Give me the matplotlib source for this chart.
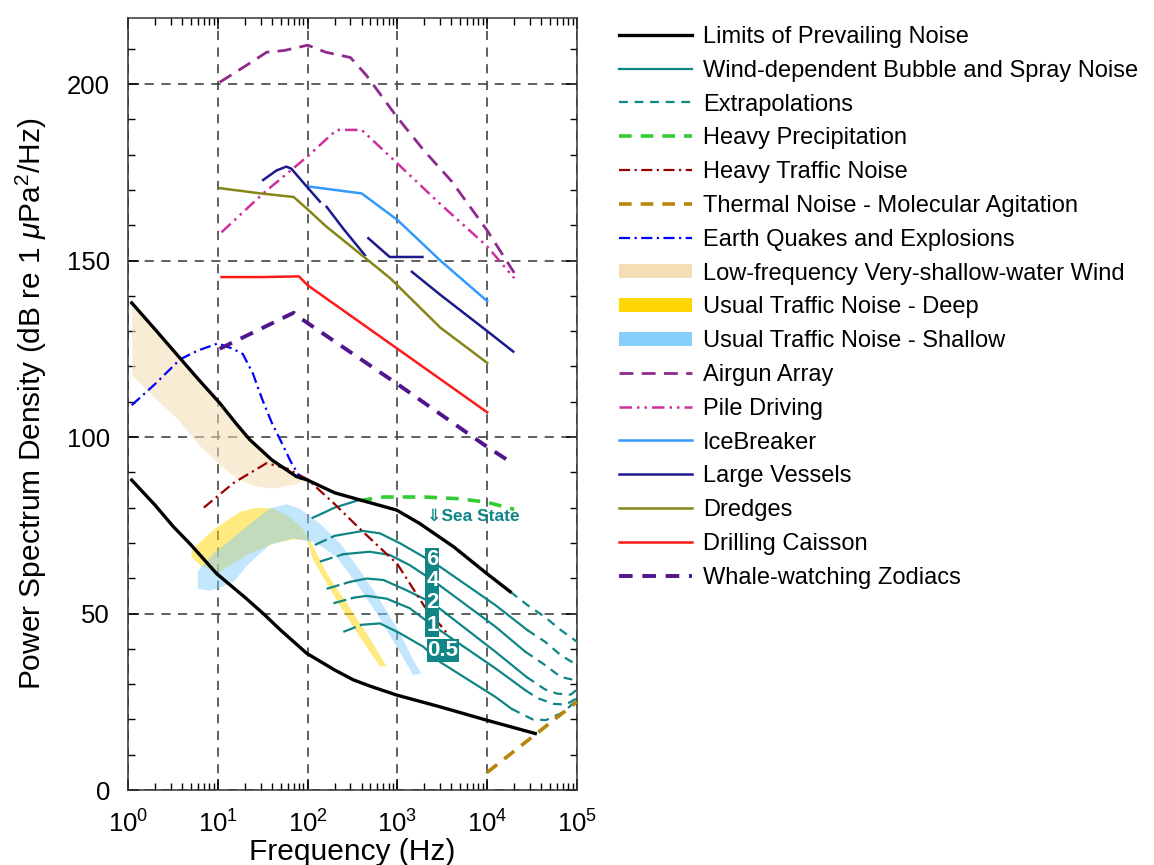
import numpy as np
import matplotlib
matplotlib.use("Agg")
import matplotlib.pyplot as plt
from matplotlib.lines import Line2D
from matplotlib.ticker import LogLocator, MultipleLocator, NullFormatter

plt.rcParams['font.family'] = ['Liberation Sans', 'DejaVu Sans']
plt.rcParams['mathtext.fontset'] = 'custom'
plt.rcParams['mathtext.rm'] = 'Liberation Sans'
plt.rcParams['mathtext.it'] = 'Liberation Sans:italic'
plt.rcParams['mathtext.bf'] = 'Liberation Sans:bold'

# ---------------- data ----------------
# Limits of prevailing noise
lim_hi_f = [1.1, 2, 3.6, 6, 10.6, 16, 22.8, 40, 75, 100, 200, 380, 980, 1770, 4230, 9800, 18000]
lim_hi_db = [138, 130.5, 123, 116.5, 109.5, 103.8, 99.2, 93.5, 88.8, 87.8, 84.2, 82.2, 79.3,
             75.5, 68.9, 61.4, 56.2]
lim_lo_f = [1.1, 2, 3.2, 5, 9.7, 20, 32, 50, 98, 200, 323, 500, 980, 2950, 9800, 34300]
lim_lo_db = [87.8, 80.7, 74.6, 69.5, 61.3, 54.6, 50, 45.3, 38.7, 34, 31.2, 29.4, 26.9,
             23.6, 19.8, 16]

# Wind-dependent bubble & spray noise (sea states), lead-in / solid / extrapolation
sea_lead_f = [[111, 150], [120, 200], [137, 250], [163, 300], [194, 330], [250, 400]]
sea_lead_db = [[77, 78.5], [69.4, 72], [64.7, 66.8], [57, 59], [52.9, 54.5], [44.8, 46.8]]
sea_f = [[150, 200, 380, 980, 1770, 4230, 9800, 18000],
         [200, 415, 640, 1070, 1940, 3000, 12300, 28000],
         [250, 490, 820, 1370, 2450, 12300, 26500],
         [300, 455, 700, 1260, 2450, 12300, 27500],
         [330, 455, 760, 1370, 2450, 12300, 26500],
         [400, 640, 1070, 1940, 2970, 12300, 18700]]
sea_db = [[78.5, 80, 82.2, 79.3, 75.5, 68.9, 61.4, 56.2],
          [72, 73.4, 72.7, 69.9, 66.1, 63.2, 52.4, 45.3],
          [66.8, 67.5, 66.6, 63.7, 59.5, 46.3, 39.2],
          [59, 59.9, 59.5, 56.6, 53, 39.2, 32],
          [54.5, 55, 54.2, 51.5, 46.7, 34.5, 28.3],
          [46.8, 47.2, 44.4, 40.6, 36.3, 26.4, 23]]
sea_ext_f = [[18000, 28000, 44000, 66000, 100000],
             [28000, 44000, 66000, 100000],
             [26500, 44000, 66000, 100000],
             [27500, 44000, 60000, 85000, 100000],
             [26500, 36500, 55000, 75000, 100000],
             [18700, 32000, 45000, 70000, 100000]]
sea_ext_db = [[56.2, 52.4, 49, 45.3, 42],
              [45.3, 42, 38.2, 35.4],
              [39.2, 35.4, 32, 31],
              [32, 28.5, 27.3, 27, 28.5],
              [28.3, 26, 24.4, 24.2, 26],
              [23, 20, 19.8, 22, 25.5]]
sea_labels = ["6", "4", "2", "1", "0.5"]

# Heavy precipitation
rain_f = [380, 700, 2000, 5000, 10000, 20000]
rain_db = [82, 83, 83, 82.5, 81.5, 79.5]

# Heavy traffic noise
htraffic_f = [7, 15, 35, 60, 100, 200, 400, 1000, 2000, 3700]
htraffic_db = [80, 87, 92.6, 91, 88, 81, 73.5, 64, 52, 44]

# Thermal noise
thermal_f = [10000, 100000]
thermal_db = [5, 25]

# Earthquakes and explosions
quake_f = [1.1, 2, 3.8, 6, 10, 14.7, 19, 24.6, 28, 32, 40, 50, 65, 85]
quake_db = [109, 115, 122, 124.5, 126.5, 125, 123.5, 118, 114, 110, 104, 99, 93, 88]

# Low-frequency very-shallow-water wind band
swwind_f = [1.1, 2, 3.6, 6, 10.6, 16, 22.8, 40, 75, 90]
swwind_hi = [137, 130.5, 123, 116.5, 109.5, 103.8, 99.2, 93.5, 88.8, 88.2]
swwind_lo = [117.6, 111, 105, 98, 92, 88.5, 86.5, 85.5, 86.8, 87.8]

# Usual traffic noise - deep (band edges)
deep_hi_f = [5.1, 8.9, 17.7, 27, 41.5, 63, 90, 116, 163, 273, 455, 760]
deep_hi_db = [68, 73.7, 78.8, 80, 79.7, 77.4, 73.7, 68.9, 61.4, 52.9, 44.4, 35]
deep_lo_f = [5.1, 6.5, 10.6, 21, 41.5, 69, 98, 116, 210, 380, 640]
deep_lo_db = [66, 63.5, 61.8, 66.6, 69.8, 71, 70.8, 65, 53.8, 43.4, 35]

# Usual traffic noise - shallow (band edges)
shal_hi_f = [6, 9, 21, 38, 58, 82, 137, 230, 380, 640, 1070, 1500, 1850]
shal_hi_db = [62, 67, 74.6, 79.7, 81, 79.7, 75.5, 69.9, 62.3, 53.8, 44.4, 36.8, 33]
shal_lo_f = [6, 8, 10, 15, 22, 38, 70, 125, 210, 350, 590, 980, 1500, 1850]
shal_lo_db = [57, 56.5, 57, 59, 64, 69.5, 71.3, 70, 66, 58.5, 50, 40.6, 32.6, 33]

# Anthropogenic sources
airgun_f = [10.5, 20, 35, 55, 100, 160, 300, 450, 1000, 2000, 4000, 10000, 20000]
airgun_db = [200.5, 205, 209, 209.5, 211, 209, 207.5, 202.5, 190.5, 181, 172.5, 158.5, 146.5]
pile_f = [11, 32, 100, 210, 400, 1000, 3000, 10000, 20000]
pile_db = [158, 169, 179.5, 187, 187, 177.5, 166, 154, 145]
ice_f = [100, 400, 1000, 3000, 10000]
ice_db = [171, 169, 161.5, 150, 138.5]
vessel_f = [32, 45, 58, 66, 90, 137, np.nan, 163, 250, 435, np.nan, 475, 820, 1900,
            np.nan, 1450, 3000, 10000, 19500]
vessel_db = [172.8, 175.5, 176.6, 176, 172, 166.7, np.nan, 165.2, 159, 151.5, np.nan,
             156.3, 151, 151, np.nan, 146.8, 140.3, 130, 124.2]
dredge_f = [10.5, 30, 70, 100, 160, 380, 830, 3000, 10000]
dredge_db = [170.5, 169, 168, 164.5, 159.7, 152, 145, 131, 121]
drill_f = [11, 30, 80, 100, 1000, 10000]
drill_db = [145.3, 145.3, 145.5, 143, 125, 107]
zodiac_f = [10.5, 70, 85, 1000, 10000, 18000]
zodiac_db = [125, 135.2, 133.5, 115, 97.2, 93]

# ---------------- figure ----------------
fig = plt.figure(figsize=(11.54, 8.65), dpi=100)
ax = fig.add_axes([128 / 1154, 1 - 790 / 865, (577 - 128) / 1154, (790 - 18) / 865])
ax.set_xscale('log')
ax.set_xlim(1, 1e5)
ax.set_ylim(0, 218.7)

TEAL = '#0f8585'

# bands
ax.fill_between(swwind_f, swwind_lo, swwind_hi, color='wheat', alpha=0.55, lw=0, zorder=1)
ax.fill(deep_hi_f + deep_lo_f[::-1], deep_hi_db + deep_lo_db[::-1],
        color='gold', alpha=0.5, lw=0, zorder=1)
ax.fill(shal_hi_f + shal_lo_f[::-1], shal_hi_db + shal_lo_db[::-1],
        color='lightskyblue', alpha=0.5, lw=0, zorder=1)

# sea state curves
for i in range(len(sea_f)):
    ax.plot(sea_lead_f[i], sea_lead_db[i], color=TEAL, lw=1.6, ls=(0, (6, 2)), zorder=3)
    ax.plot(sea_f[i], sea_db[i], color=TEAL, lw=1.6, zorder=3)
    ax.plot(sea_ext_f[i], sea_ext_db[i], color=TEAL, lw=1.6, ls=(0, (4, 3)), zorder=3)

ax.plot(lim_hi_f, lim_hi_db, color='black', lw=2.4, zorder=4)
ax.plot(lim_lo_f, lim_lo_db, color='black', lw=2.4, zorder=4)
ax.plot(rain_f, rain_db, color='#33cc33', lw=2.6, ls=(0, (3.5, 2.5)), zorder=3)
ax.plot(htraffic_f, htraffic_db, color='#990000', lw=1.6, ls=(0, (5, 2, 1, 2)), zorder=3)
ax.plot(thermal_f, thermal_db, color='#b8860b', lw=2.6, ls=(0, (3.5, 2.5)), zorder=3)
ax.plot(quake_f, quake_db, color='#0000ff', lw=1.6, ls=(0, (5, 2, 1, 2)), zorder=3)

ax.plot(airgun_f, airgun_db, color='#8e2a8e', lw=2.0, ls=(0, (5, 3)), zorder=3)
ax.plot(pile_f, pile_db, color='#d02f9e', lw=1.8, ls=(0, (5, 2, 1, 2, 1, 2)), zorder=3)
ax.plot(ice_f, ice_db, color='#3399ff', lw=1.8, zorder=3)
ax.plot(vessel_f, vessel_db, color='#1a1a8c', lw=1.8, zorder=3)
ax.plot(dredge_f, dredge_db, color='#85851a', lw=1.8, zorder=3)
ax.plot(drill_f, drill_db, color='#ff1a1a', lw=1.8, zorder=3)
ax.plot(zodiac_f, zodiac_db, color='#50148c', lw=2.8, ls=(0, (3.5, 2.5)), zorder=3)

# sea state annotations
lab_pos = [(2450, 65.2), (2450, 59.3), (2450, 53), (2450, 46.7), (3220, 39.6)]
for (fx, dy), s in zip(lab_pos, sea_labels):
    ax.text(fx, dy, s, color='white', fontsize=16, fontweight='bold', ha='center', va='center',
            zorder=6, bbox=dict(boxstyle='square,pad=0.04', fc=TEAL, ec='none'))
ax.text(2150, 77.4, '\u21d3Sea State', color=TEAL, fontsize=12.5, fontweight='bold',
        ha='left', va='center', zorder=6, family=['Liberation Sans', 'DejaVu Sans'])

# axes styling
ax.grid(True, which='major', color='#444444', lw=1.2, ls=(0, (5.5, 4.5)), zorder=0)
ax.set_axisbelow(True)
ax.yaxis.set_major_locator(MultipleLocator(50))
ax.yaxis.set_minor_locator(MultipleLocator(10))
ax.xaxis.set_major_locator(LogLocator(base=10, numticks=10))
ax.xaxis.set_minor_locator(LogLocator(base=10, subs=np.arange(2, 10), numticks=20))
ax.xaxis.set_minor_formatter(NullFormatter())
ax.tick_params(which='both', direction='in', top=True, right=True, labelsize=18.5)
ax.tick_params(which='major', length=8, width=1.1)
ax.tick_params(which='minor', length=5, width=1.0)
ax.tick_params(axis='y', pad=13)
ax.tick_params(axis='x', pad=15)
for sp in ax.spines.values():
    sp.set_linewidth(1.1)
    sp.set_color('#333333')
ax.set_xlabel('Frequency (Hz)', fontsize=21.5, labelpad=0)
ax.set_ylabel('Power Spectrum Density (dB re 1 $\\mu$Pa$^2$/Hz)', fontsize=21.5, labelpad=13)

# legend
handles = [
    Line2D([], [], color='black', lw=2.4),
    Line2D([], [], color=TEAL, lw=1.6),
    Line2D([], [], color=TEAL, lw=1.6, ls=(0, (4, 3))),
    Line2D([], [], color='#33cc33', lw=2.6, ls=(0, (3.5, 2.5))),
    Line2D([], [], color='#990000', lw=1.6, ls=(0, (5, 2, 1, 2))),
    Line2D([], [], color='#b8860b', lw=2.6, ls=(0, (3.5, 2.5))),
    Line2D([], [], color='#0000ff', lw=1.6, ls=(0, (5, 2, 1, 2))),
    Line2D([], [], color='wheat', lw=10, solid_capstyle='butt'),
    Line2D([], [], color='gold', lw=10, solid_capstyle='butt'),
    Line2D([], [], color='lightskyblue', lw=10, solid_capstyle='butt'),
    Line2D([], [], color='#8e2a8e', lw=2.0, ls=(0, (5, 3))),
    Line2D([], [], color='#d02f9e', lw=1.8, ls=(0, (5, 2, 1, 2, 1, 2))),
    Line2D([], [], color='#3399ff', lw=1.8),
    Line2D([], [], color='#1a1a8c', lw=1.8),
    Line2D([], [], color='#85851a', lw=1.8),
    Line2D([], [], color='#ff1a1a', lw=1.8),
    Line2D([], [], color='#50148c', lw=2.8, ls=(0, (3.5, 2.5))),
]
labels = ['Limits of Prevailing Noise', 'Wind-dependent Bubble and Spray Noise',
          'Extrapolations', 'Heavy Precipitation', 'Heavy Traffic Noise',
          'Thermal Noise - Molecular Agitation', 'Earth Quakes and Explosions',
          'Low-frequency Very-shallow-water Wind', 'Usual Traffic Noise - Deep',
          'Usual Traffic Noise - Shallow', 'Airgun Array', 'Pile Driving', 'IceBreaker',
          'Large Vessels', 'Dredges', 'Drilling Caisson', 'Whale-watching Zodiacs']
fig.legend(handles, labels, loc='upper left', bbox_to_anchor=(619 / 1154, 1 - 26 / 865),
           frameon=False, fontsize=17, handlelength=3.1, handletextpad=0.45,
           labelspacing=0.5, borderpad=0, borderaxespad=0)

fig.savefig('out.png', dpi=100)
